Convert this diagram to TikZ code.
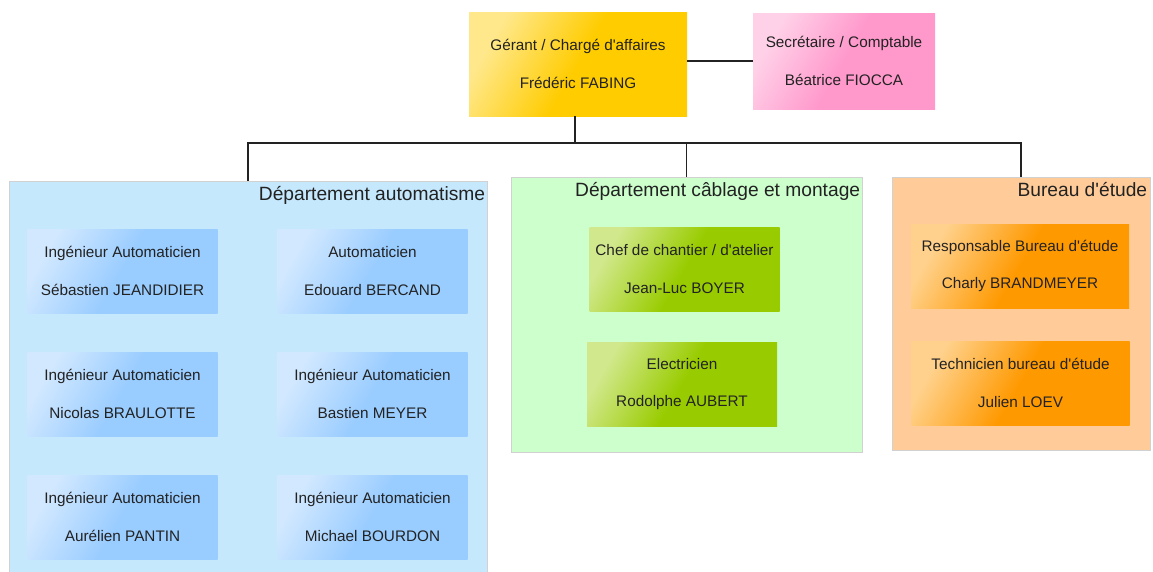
\documentclass[tikz,border=0pt]{standalone}
\usepackage{fontspec}
\setmainfont{Liberation Sans}[Ligatures=TeXOff]
\usepackage{xcolor}
\usepackage{tikz}
\definecolor{ink}{HTML}{222222}
\definecolor{gold}{HTML}{FFCC00}
\definecolor{rose}{HTML}{FF99CC}
\definecolor{skybg}{HTML}{C5E8FD}
\definecolor{sky}{HTML}{99CCFF}
\definecolor{mintbg}{HTML}{CCFFCC}
\definecolor{lime}{HTML}{99CC00}
\definecolor{peachbg}{HTML}{FFCC99}
\definecolor{amber}{HTML}{FF9900}
\tikzset{
  link/.style={draw=ink, line width=1.2pt},
  dept/.style={rectangle, draw=black!18, line width=0.7pt, inner sep=0pt},
  title/.style={anchor=north east, inner xsep=2pt, inner ysep=6pt, text=ink, font=\fontsize{19.2}{22}\selectfont},
  card/.style={rectangle, inner sep=0pt, minimum width=190pt, minimum height=84pt,
    align=center, text=ink, font=\fontsize{15.3}{37.5}\selectfont,
    top color=#1!45!white, bottom color=#1, middle color=#1, shading angle=60},
}

\begin{document}
\begin{tikzpicture}[x=1pt, y=-1pt]
  \clip (0,0) rectangle (1153,571);
  \fill[white] (0,0) rectangle (1153,571);
  \node[dept, fill=skybg, minimum width=478pt, minimum height=440pt] (auto) at (248,401) {};
  \node[dept, fill=mintbg, minimum width=351pt, minimum height=275pt] (cab) at (686.5,314.5) {};
  \node[dept, fill=peachbg, minimum width=258pt, minimum height=273pt] (bet) at (1021,313.5) {};
  \node[title] (autot) at (auto.north east) {Département automatisme};
  \node[title] (cabt) at (cab.north east) {Département câblage et montage};
  \node[title] (bett) at ([xshift=-1pt]bet.north east) {Bureau d'étude};

  \node[card=gold, minimum width=218pt, minimum height=104pt] (ger) at (578,64)
    {Gérant / Chargé d'affaires\\Frédéric FABING};
  \node[card=rose, minimum width=182pt, minimum height=96pt] (sec) at (844,61)
    {Secrétaire / Comptable\\Béatrice FIOCCA};

  \node[card=sky] (ing1) at (122.5,271) {Ingénieur Automaticien\\Sébastien JEANDIDIER};
  \node[card=sky] (aut) at (372.5,271) {Automaticien\\Edouard BERCAND};
  \node[card=sky] (ing2) at (122.5,394) {Ingénieur Automaticien\\Nicolas BRAULOTTE};
  \node[card=sky] (ing3) at (372.5,394) {Ingénieur Automaticien\\Bastien MEYER};
  \node[card=sky] (ing4) at (122.5,517) {Ingénieur Automaticien\\Aurélien PANTIN};
  \node[card=sky] (ing5) at (372.5,517) {Ingénieur Automaticien\\Michael BOURDON};

  \node[card=lime] (chef) at (684.5,269) {Chef de chantier / d'atelier\\Jean-Luc BOYER};
  \node[card=lime] (elec) at (682,384) {Electricien\\Rodolphe AUBERT};

  \node[card=amber, minimum width=218pt] (resp) at (1020,266) {Responsable Bureau d'étude\\Charly BRANDMEYER};
  \node[card=amber, minimum width=218pt] (tech) at (1020.5,383) {Technicien bureau d'étude\\Julien LOEV};

  \coordinate (bus) at (575,143);
  \draw[link] (ger.east |- sec.west) -- (sec.west);
  \draw[link] (ger.south -| bus) -- (bus);
  \draw[link] (auto.north) |- (bus) -| (bet.north);
  \draw[link] (bus) -| (cab.north);
\end{tikzpicture}
\end{document}
